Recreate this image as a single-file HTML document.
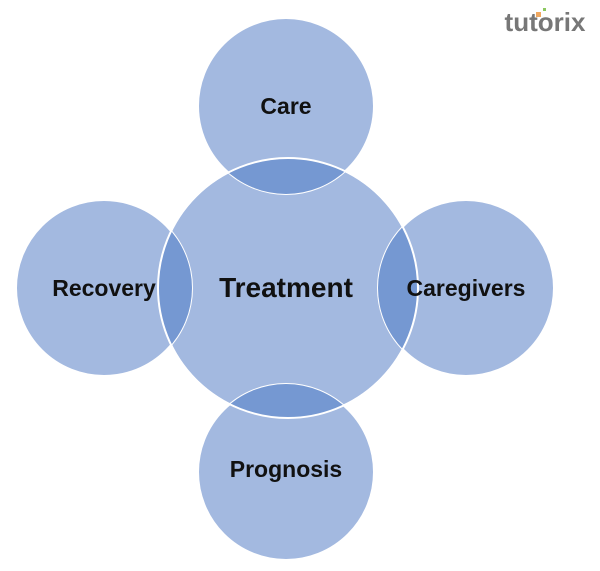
<!DOCTYPE html>
<html><head><style>body{margin:0;background:#fff}svg{display:block}</style></head><body>
<svg width="600" height="571" xmlns="http://www.w3.org/2000/svg">
<defs>
<clipPath id="ct"><circle cx="288" cy="288" r="130"/></clipPath>
</defs>
<g fill="#a3b9e0" stroke="#fff" stroke-width="2">
<circle cx="288" cy="288" r="130"/>
<circle cx="286" cy="106" r="88"/>
<circle cx="104" cy="288" r="88"/>
<circle cx="466" cy="288" r="88"/>
<circle cx="286" cy="472" r="88"/>
</g>
<g clip-path="url(#ct)" fill="#7598d2">
<circle cx="286" cy="106" r="88"/>
<circle cx="104" cy="288" r="88"/>
<circle cx="466" cy="288" r="88"/>
<circle cx="286" cy="472" r="88"/>
</g>
<g fill="none" stroke="#fff" stroke-width="2">
<circle cx="288" cy="288" r="130"/>
</g>
<g font-family="Liberation Sans, sans-serif" font-weight="bold" fill="#111" text-anchor="middle">
<text x="286" y="114" font-size="23">Care</text>
<text x="104" y="296" font-size="23">Recovery</text>
<text x="286" y="297" font-size="28">Treatment</text>
<text x="466" y="296" font-size="23">Caregivers</text>
<text x="286" y="477" font-size="23">Prognosis</text>
<text x="545" y="31" font-size="26" fill="#777" font-weight="bold">tutorix</text>
</g>
<rect x="536" y="12" width="5" height="5" fill="#f0a860"/>
<rect x="543" y="8" width="3" height="3" fill="#8cc860"/>
</svg>
</body></html>
